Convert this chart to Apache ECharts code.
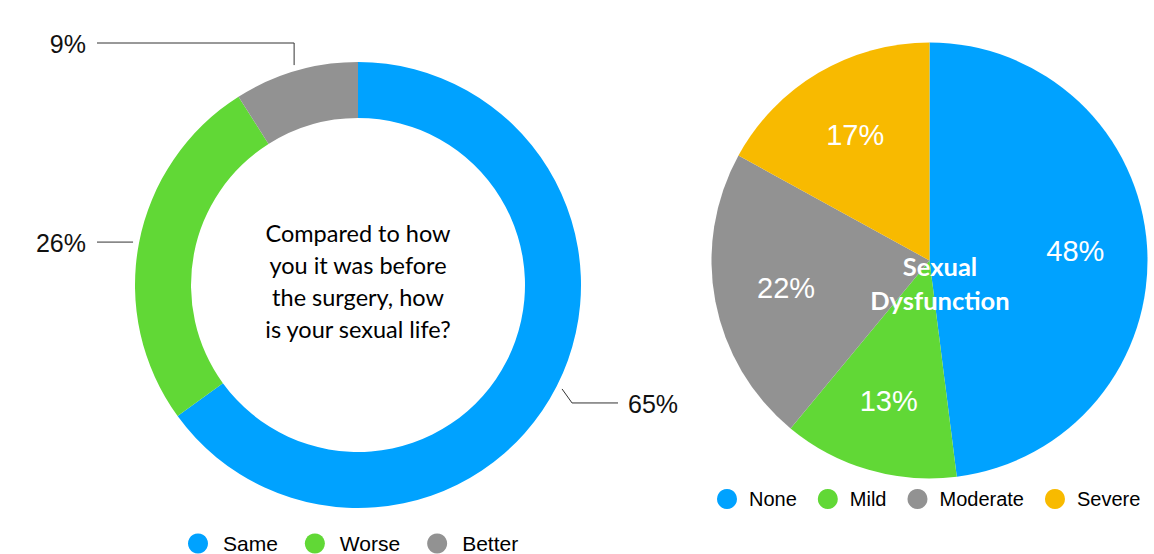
<!DOCTYPE html>
<html>
<head>
<meta charset="utf-8">
<script src="https://cdn.jsdelivr.net/npm/echarts@6/dist/echarts.min.js"></script>
<style>
  html, body { margin: 0; padding: 0; background: #ffffff; }
  #chart { width: 1154px; height: 554px; }
</style>
</head>
<body>
<div id="chart"></div>
<script>
// Sexual life after surgery (ring) and sexual dysfunction grade (pie), in percent
const lifeCategories = ['Same', 'Worse', 'Better'];
const lifeValues = [65, 26, 9];
const dysfunctionCategories = ['None', 'Mild', 'Moderate', 'Severe'];
const dysfunctionValues = [48, 13, 22, 17];
const lifeQuestion = ['Compared to how', 'you it was before', 'the surgery, how', 'is your sexual life?'];
const dysfunctionTitle = ['Sexual', 'Dysfunction'];

const BLUE = '#00A2FF', GREEN = '#61D836', GREY = '#929292', GOLD = '#F8BA00';
const lifeColors = [BLUE, GREEN, GREY];
const dysfunctionColors = [BLUE, GREEN, GREY, GOLD];

const SANS = '"Liberation Sans", Arial, Helvetica, sans-serif';
const HUMANIST = 'Lato, "Open Sans", sans-serif';

// geometry of the two circles (pixels)
const ring = { cx: 358, cy: 285, r0: 167, r: 223 };
const pie = { cx: 929.5, cy: 260.5, r: 218 };

// angle (radians, clockwise from 12 o'clock) of the middle of slice i
function midAngle(values, i) {
  const total = values.reduce((a, b) => a + b, 0);
  let before = 0;
  for (let k = 0; k < i; k++) before += values[k];
  return (before + values[i] / 2) / total * Math.PI * 2;
}

const chart = echarts.init(document.getElementById('chart'), null, { renderer: 'svg' });

chart.setOption({
  animation: false,
  backgroundColor: '#ffffff',
  legend: [
    {
      data: lifeCategories,
      left: 188, top: 533, padding: 0,
      icon: 'circle', itemWidth: 20, itemHeight: 20, itemGap: 27,
      selectedMode: false,
      textStyle: { fontFamily: SANS, fontSize: 21, color: '#000', padding: [0, 0, 0, 10] }
    },
    {
      data: dysfunctionCategories,
      left: 717, top: 489, padding: 0,
      icon: 'circle', itemWidth: 20, itemHeight: 20, itemGap: 21,
      selectedMode: false,
      textStyle: { fontFamily: SANS, fontSize: 20, color: '#000', padding: [0, 0, 0, 7] }
    }
  ],
  graphic: [
    {
      type: 'text', z: 100,
      x: ring.cx, y: ring.cy - 4.5,
      style: {
        text: lifeQuestion.join('\n'),
        font: '23.5px ' + HUMANIST, lineHeight: 32,
        align: 'center', verticalAlign: 'middle',
        textAlign: 'center', textVerticalAlign: 'middle',
        fill: '#000'
      }
    },
    {
      type: 'text', z: 100,
      x: pie.cx + 10.5, y: pie.cy + 22,
      style: {
        text: dysfunctionTitle.join('\n'),
        font: 'bold 25.5px ' + HUMANIST, lineHeight: 34,
        align: 'center', verticalAlign: 'middle',
        textAlign: 'center', textVerticalAlign: 'middle',
        fill: '#ffffff'
      }
    }
  ],
  series: [
    {
      type: 'pie',
      center: [ring.cx, ring.cy],
      radius: [ring.r0, ring.r],
      startAngle: 90, clockwise: true,
      silent: true,
      data: lifeCategories.map((name, i) => ({
        name, value: lifeValues[i], itemStyle: { color: lifeColors[i] }
      })),
      label: {
        show: true, position: 'outside',
        formatter: '{c}%',
        fontFamily: SANS, fontSize: 25, color: '#111'
      },
      labelLine: { show: true, smooth: false, lineStyle: { color: '#333', width: 1 } },
      labelLayout: function (p) {
        const a = midAngle(lifeValues, p.dataIndex);
        const ux = Math.sin(a), uy = -Math.cos(a);
        const p0 = [ring.cx + (ring.r + 6) * ux, ring.cy + (ring.r + 6) * uy];
        const rightEnd = ring.cx + ring.r + 37;
        const leftEnd = ring.cx - ring.r - 38;
        let p1, p2, lx, align;
        if (ux > 0) {
          // short kink away from the ring, then a flat run to the right
          p1 = [p0[0] + 10, p0[1] + 14];
          p2 = [rightEnd, p1[1]];
          lx = p2[0] + 10; align = 'left';
        } else if (uy < -0.8) {
          // near the top: rise straight up, then run left
          p1 = [p0[0], ring.cy - ring.r - 19];
          p2 = [leftEnd, p1[1]];
          lx = p2[0] - 11; align = 'right';
        } else {
          p2 = [leftEnd, p0[1]];
          p1 = [(p0[0] + p2[0]) / 2, p0[1]];
          lx = p2[0] - 11; align = 'right';
        }
        return {
          x: lx, y: p2[1] + 1, align: align, verticalAlign: 'middle',
          labelLinePoints: [p0, p1, p2]
        };
      }
    },
    {
      type: 'pie',
      center: [pie.cx, pie.cy],
      radius: [0, pie.r],
      startAngle: 90, clockwise: true,
      silent: true,
      data: dysfunctionCategories.map((name, i) => ({
        name, value: dysfunctionValues[i], itemStyle: { color: dysfunctionColors[i] }
      })),
      label: {
        show: true, position: 'inside',
        formatter: '{c}%',
        fontFamily: SANS, fontSize: 29, color: '#ffffff'
      },
      labelLine: { show: false },
      labelLayout: function (p) {
        const a = midAngle(dysfunctionValues, p.dataIndex);
        const d = pie.r * 0.67;
        return {
          x: pie.cx + d * Math.sin(a),
          y: pie.cy - d * Math.cos(a),
          align: 'center', verticalAlign: 'middle'
        };
      }
    }
  ]
});
</script>
</body>
</html>
